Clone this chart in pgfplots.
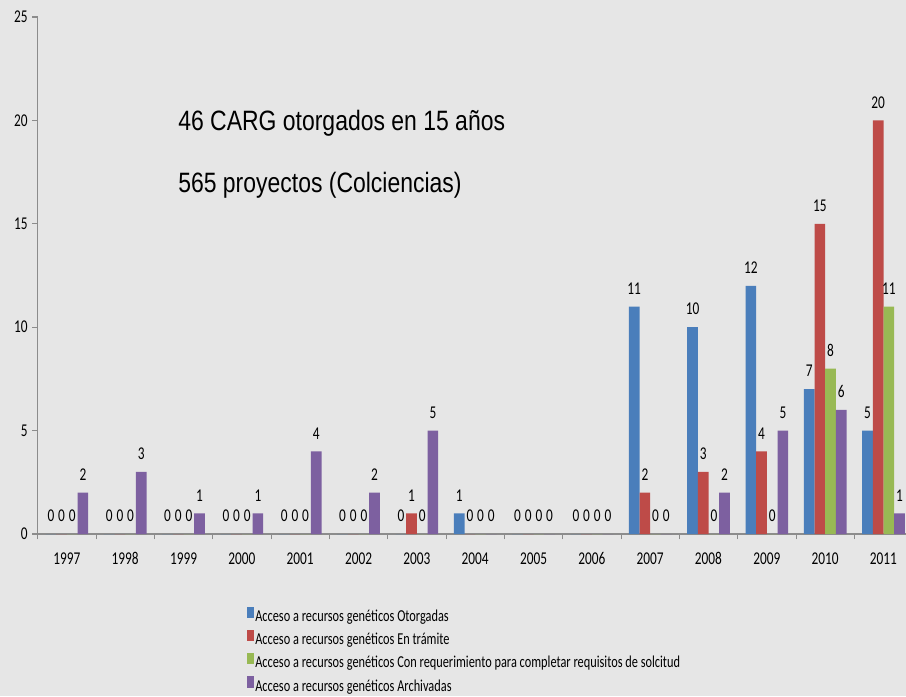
\documentclass[border=0pt]{standalone}
\usepackage{pgfplots}
\usepackage{pgfplotstable}
\pgfplotsset{compat=1.18}
\usepackage{fontspec}
\setmainfont{Carlito}
\newfontfamily\arialf{Liberation Sans}
\definecolor{bgc}{HTML}{E6E6E6}
\definecolor{cblue}{HTML}{4A7EBB}
\definecolor{cred}{HTML}{BE4B48}
\definecolor{cgreen}{HTML}{98B954}
\definecolor{cpurple}{HTML}{7D60A0}
\definecolor{axgray}{HTML}{8C8C8C}

\pgfplotstableread{
x a b c d
1997 0 0 0 2
1998 0 0 0 3
1999 0 0 0 1
2000 0 0 0 1
2001 0 0 0 4
2002 0 0 0 2
2003 0 1 0 5
2004 1 0 0 0
2005 0 0 0 0
2006 0 0 0 0
2007 11 2 0 0
2008 10 3 0 2
2009 12 4 0 5
2010 7 15 8 6
2011 5 20 11 1
}\data

\begin{document}
\begin{tikzpicture}
\fill[bgc] (0,0) rectangle (679.5pt,522pt);
\begin{axis}[
  at={(28.3pt,121.5pt)}, anchor=south west,
  scale only axis, width=651.2pt, height=387.75pt,
  xmin=1996.5, xmax=2011.385, ymin=0, ymax=25,
  ybar=0pt, bar width=8pt,
  axis x line*=bottom, axis y line*=left,
  axis line style={axgray, line width=0.8pt},
  every tick/.style={axgray, line width=0.8pt},
  tick align=outside,
  xtick={1997,...,2011},
  xticklabel={\scalebox{0.74}[1]{\pgfmathprintnumber[1000 sep={}]{\tick}}},
  major x tick style={draw=none},
  minor xtick={1996.5,1997.5,...,2010.5},
  minor tick length=4pt,
  ytick={0,5,...,25},
  yticklabel={\scalebox{0.74}[1]{\pgfmathprintnumber{\tick}}},
  major tick length=4pt,
  /pgf/number format/assume math mode=true,
  ticklabel style={font=\fontsize{13.5}{15}\selectfont, text=black},
  xticklabel style={yshift=-6pt, text height=9pt, text depth=0pt, anchor=north},
  nodes near coords={\scalebox{0.74}[1]{\pgfmathprintnumber{\pgfplotspointmeta}}},
  every node near coord/.append style={font=\fontsize{13.5}{15}\selectfont, anchor=south, inner sep=1pt, yshift=8pt, text=black},
  legend style={draw=none, fill=none, at={(rel axis cs:0.2364,-0.135)}, anchor=north west,
    font=\fontsize{12.5}{14}\selectfont, row sep=3.8pt,
    nodes={inner sep=1pt}},
  legend cell align=left,
  legend image code/.code={\fill[#1] (0pt,-1pt) rectangle (5pt,7.5pt);},
]
\addplot[fill=cblue, draw=none] table[x=x,y=a]{\data};
\addplot[fill=cred, draw=none] table[x=x,y=b]{\data};
\addplot[fill=cgreen, draw=none] table[x=x,y=c]{\data};
\addplot[fill=cpurple, draw=none] table[x=x,y=d]{\data};
\addlegendentry{\scalebox{0.74}[1]{Acceso a recursos genéticos Otorgadas}}
\addlegendentry{\scalebox{0.74}[1]{Acceso a recursos genéticos En trámite}}
\addlegendentry{\scalebox{0.74}[1]{Acceso a recursos genéticos Con requerimiento para completar requisitos de solcitud}}
\addlegendentry{\scalebox{0.74}[1]{Acceso a recursos genéticos Archivadas}}
\node[anchor=base west, inner sep=0pt, font=\arialf\fontsize{21}{24}\selectfont] at (rel axis cs:0.1616,0.7814) {\scalebox{0.82}[1]{46 CARG otorgados en 15 años}};
\node[anchor=base west, inner sep=0pt, font=\arialf\fontsize{21}{24}\selectfont] at (rel axis cs:0.1616,0.6615) {\scalebox{0.82}[1]{565 proyectos (Colciencias)}};
\end{axis}
\pgfresetboundingbox
\useasboundingbox (0,0) rectangle (679.5pt,522pt);
\end{tikzpicture}
\end{document}
